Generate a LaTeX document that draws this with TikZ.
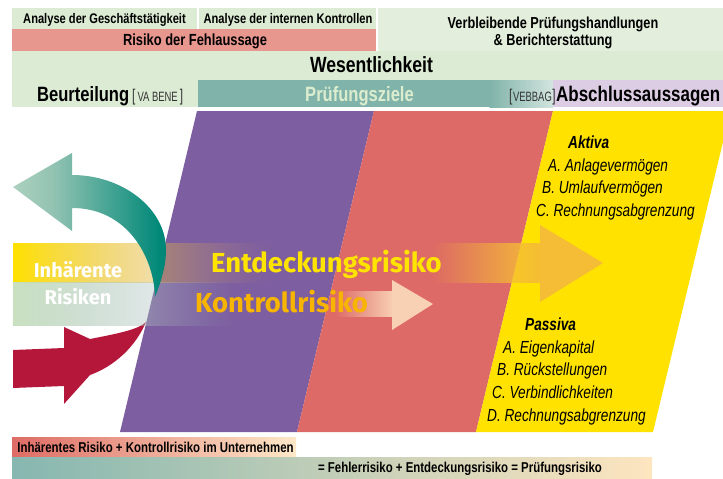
\documentclass[tikz,border=0pt]{standalone}
\usepackage{fontspec}
\usetikzlibrary{fadings,shadings}
\newfontfamily\cond[FakeStretch=0.8]{Liberation Sans}
\newfontfamily\condn[FakeStretch=0.7]{Liberation Sans}
\newfontfamily\condi[FakeStretch=0.78]{Liberation Sans}
\newfontfamily\fira{Fira Sans}
\definecolor{hgreen}{HTML}{DCEBD3}
\definecolor{hgreenL}{HTML}{E3EFDC}
\definecolor{hpink}{HTML}{E8978F}
\definecolor{hteal}{HTML}{80B3A9}
\definecolor{htealL}{HTML}{D3E5DF}
\definecolor{hlav}{HTML}{DCCDE4}
\definecolor{cpurple}{HTML}{7D5EA0}
\definecolor{csalmon}{HTML}{DD6A66}
\definecolor{cyellow}{HTML}{FFE200}
\definecolor{grA}{HTML}{DCEBD5}
\definecolor{grB}{HTML}{93C3B2}
\definecolor{grC}{HTML}{008878}
\definecolor{grD}{HTML}{006E62}
\definecolor{credarr}{HTML}{B5173A}
\definecolor{bandY1}{HTML}{FFE100}
\definecolor{bandY2}{HTML}{C69078}
\definecolor{bandG1}{HTML}{C8E0C0}
\definecolor{bandG2}{HTML}{9AAEBC}
\definecolor{corange}{HTML}{F5BD35}
\definecolor{cpeach}{HTML}{F8D0B4}
\definecolor{tentd}{HTML}{FFE400}
\definecolor{tkontr}{HTML}{F7B400}
\definecolor{tpruef}{HTML}{DCEDCF}
\definecolor{bA1}{HTML}{DE6C66}
\definecolor{bA2}{HTML}{FDE8C8}
\definecolor{bB1}{HTML}{86B7B0}
\definecolor{bB2}{HTML}{FDE5BF}
\pgfdeclarehorizontalshading{greenarr}{100bp}{color(0bp)=(grA); color(38bp)=(grB); color(73bp)=(grC); color(100bp)=(grD)}
\tikzfading[name=fadeRtA, left color=transparent!0, middle color=transparent!30, right color=transparent!100]
\tikzfading[name=fadeRtB, left color=transparent!0, middle color=transparent!28, right color=transparent!100]
\tikzfading[name=fadeInR, left color=transparent!100, right color=transparent!0]
\tikzset{
  hdr/.style={font=\cond\bfseries\fontsize{13.9}{15}\selectfont, inner sep=0pt, anchor=base, text=black},
  hdrbig/.style={font=\cond\bfseries\fontsize{20.7}{22}\selectfont, inner sep=0pt, anchor=base, text=black},
  bal/.style={font=\condi\itshape\fontsize{17.5}{18}\selectfont, inner sep=0pt, anchor=base west, text=black},
  balh/.style={font=\condi\bfseries\itshape\fontsize{17.5}{18}\selectfont, inner sep=0pt, anchor=base west, text=black},
  bigtxt/.style={font=\fira\bfseries\fontsize{27.5}{30}\selectfont, inner sep=0pt, anchor=base west},
  inhtxt/.style={font=\fira\bfseries\fontsize{20}{22}\selectfont, inner sep=0pt, anchor=base, text=white},
  foot/.style={font=\cond\bfseries\fontsize{14.3}{15}\selectfont, inner sep=0pt, anchor=base, text=black},
  tag/.style={inner sep=0pt, anchor=base west, text=black!80}
}
\newcommand{\tagtext}[2]{{\condn\fontsize{17}{17}\selectfont[}{\condn\fontsize{13.5}{13}\selectfont\hspace{#2}#1\hspace{#2}}{\condn\fontsize{17}{17}\selectfont]}}
\begin{document}
\begin{tikzpicture}[x=1pt,y=-1pt]
\useasboundingbox (0,0) rectangle (723,479);
\clip (0,0) rectangle (723,479);
% ---------- header ----------
\fill[hgreen] (12,8) rectangle (197,29);
\fill[hgreen] (199,8) rectangle (376,29);
\fill[hpink] (12,29) rectangle (376,51);
\fill[hgreenL] (378,8) rectangle (723,51);
\fill[hgreen] (12,51) rectangle (723,80);
\fill[hgreen] (12,80) rectangle (198,107);
\fill[hteal] (198,80) rectangle (490,107);
\shade[left color=hteal, right color=htealL] (489.5,80) rectangle (553,107);
\fill[hlav] (553,80) rectangle (723,107);
\node[hdr] (ana1) at (104.5,23.5) {Analyse der Geschäftstätigkeit};
\node[hdr] (ana2) at (288,23.5) {Analyse der internen Kontrollen};
\node[hdr, font=\cond\bfseries\fontsize{16.1}{17}\selectfont] (rfa) at (195,45.5) {Risiko der Fehlaussage};
\node[hdr, font=\cond\bfseries\fontsize{15.9}{17}\selectfont] (verb1) at (553,28) {Verbleibende Prüfungshandlungen};
\node[hdr, font=\cond\bfseries\fontsize{15.9}{17}\selectfont] (verb2) at (553,45.5) {\& Berichterstattung};
\node[hdrbig, font=\cond\bfseries\fontsize{22}{22}\selectfont] (wes) at (371.5,72.5) {Wesentlichkeit};
\node[hdrbig, anchor=base west] (beu) at (37,101) {Beurteilung};
\node[tag] (vab) at (132,101) {\tagtext{VA BENE}{2pt}};
\node[hdrbig, text=tpruef] (pzi) at (359.5,101) {Prüfungsziele};
\node[tag] (veb) at (509,101) {\tagtext{VEBBAG}{0.5pt}};
\node[hdrbig, anchor=base west, font=\cond\bfseries\fontsize{21.2}{22}\selectfont] (abs) at (556,101) {Abschlussaussagen};
% ---------- parallelograms ----------
\fill[cpurple] (197,111) -- (374,111) -- (297,432) -- (120,432) -- cycle;
\fill[csalmon] (374,111) -- (553,111) -- (476,432) -- (297,432) -- cycle;
\fill[cyellow] (553,111) -- (723,111) -- (723,142) -- (653,432) -- (476,432) -- cycle;
% ---------- red curved arrow ----------
\fill[credarr] (13,350) -- (64,348) -- (64,327) -- (90,339)
  .. controls (115,334) and (138,330) .. (146,322)
  .. controls (136,346) and (115,366) .. (90,375)
  -- (64,404) -- (64,386) -- (13,388) -- cycle;
% ---------- bands ----------
\shade[left color=bandY1, right color=bandY2, path fading=fadeRtA] (13,243) rectangle (272,282);
\shade[left color=bandG1, right color=bandG2, path fading=fadeRtB] (13,282) rectangle (235,325);
% ---------- green curved arrow ----------
\shade[shading=greenarr] (13,187) -- (72,153) -- (72,175)
  .. controls (122,175) and (166,208) .. (166,250)
  .. controls (166,268) and (160,284) .. (155,297)
  .. controls (154,258) and (128,208) .. (72,208)
  -- (72,231) -- cycle;
% ---------- straight arrows ----------
\fill[corange, path fading=fadeInR] (432,243) rectangle (541,283);
\fill[corange] (540,225) -- (603,263) -- (540,302) -- cycle;
\fill[cpeach, path fading=fadeInR] (335,291) rectangle (393,317);
\fill[cpeach] (392,280) -- (433,304) -- (392,330) -- cycle;
% ---------- main texts ----------
\node[inhtxt] (inh1) at (78,277) {Inhärente};
\node[inhtxt] (inh2) at (78,304) {Risiken};
\node[bigtxt, text=tentd] (entd) at (211,272) {Entdeckungsrisiko};
\node[bigtxt, text=tkontr] (kontr) at (195,312) {Kontrollrisiko};
% ---------- balance sheet ----------
\node[balh] (akt) at (568,148) {Aktiva};
\node[bal] (akA) at (548,171) {A. Anlagevermögen};
\node[bal] (akB) at (542,193) {B. Umlaufvermögen};
\node[bal] (akC) at (536,216) {C. Rechnungsabgrenzung};
\node[balh] (pas) at (525,330) {Passiva};
\node[bal] (paA) at (503,353) {A. Eigenkapital};
\node[bal] (paB) at (497,375) {B. Rückstellungen};
\node[bal] (paC) at (492,398) {C. Verbindlichkeiten};
\node[bal] (paD) at (487,421) {D. Rechnungsabgrenzung};
% ---------- footer ----------
\shade[left color=bA1, right color=bA2] (12,437) rectangle (296,457);
\shade[left color=bB1, right color=bB2] (12,457) rectangle (652,478);
\node[foot] (f1) at (155.5,452.5) {Inhärentes Risiko + Kontrollrisiko im Unternehmen};
\node[foot] (f2) at (460,472.5) {= Fehlerrisiko + Entdeckungsrisiko = Prüfungsrisiko};
\end{tikzpicture}
\end{document}
